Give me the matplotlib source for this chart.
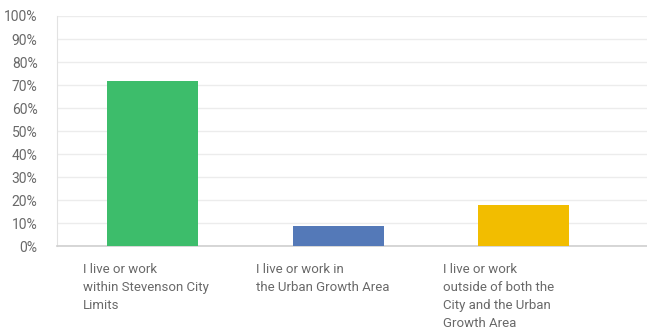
import matplotlib
matplotlib.use("Agg")
import matplotlib.pyplot as plt

# data
categories = [
    "I live or work\nwithin Stevenson City\nLimits",
    "I live or work in\nthe Urban Growth Area",
    "I live or work\noutside of both the\nCity and the Urban\nGrowth Area",
]
values = [71.7, 9.0, 17.9]
colors = ["#3dbd6b", "#5479b8", "#f2bd00"]
yticks = list(range(0, 101, 10))
ytick_labels = [f"{t}%" for t in yticks]

plt.rcParams['font.family'] = ['Roboto', 'DejaVu Sans']
text_gray = "#696969"

fig = plt.figure(figsize=(6.47, 3.33), dpi=100)
ax = fig.add_axes([0.0881, 0.2598, 0.9119, 0.6922])

x = list(range(len(values)))
ax.bar(x, values, width=0.49, color=colors, zorder=3)

ax.set_xlim(-0.516, 2.664)
ax.set_ylim(0, 100)
ax.set_yticks(yticks)
ax.set_yticklabels(ytick_labels, color=text_gray, fontsize=10)
ax.tick_params(axis='y', length=0, pad=14)
ax.set_xticks([])

ax.grid(axis='y', color="#ececec", linewidth=1, zorder=0)
for side in ['top', 'right']:
    ax.spines[side].set_visible(False)
ax.spines['left'].set_color("#e2e2e2")
ax.spines['bottom'].set_color("#cfcfcf")
ax.spines['bottom'].set_linewidth(1.2)

# category labels, left aligned under each bar
offsets = [-0.376, -0.444, -0.436]
for xi, lab, off in zip(x, categories, offsets):
    ax.text(xi + off, -0.07, lab, transform=ax.get_xaxis_transform(),
            ha='left', va='top', fontsize=9.5, color=text_gray, linespacing=1.5)

fig.savefig("out.png", dpi=100)
